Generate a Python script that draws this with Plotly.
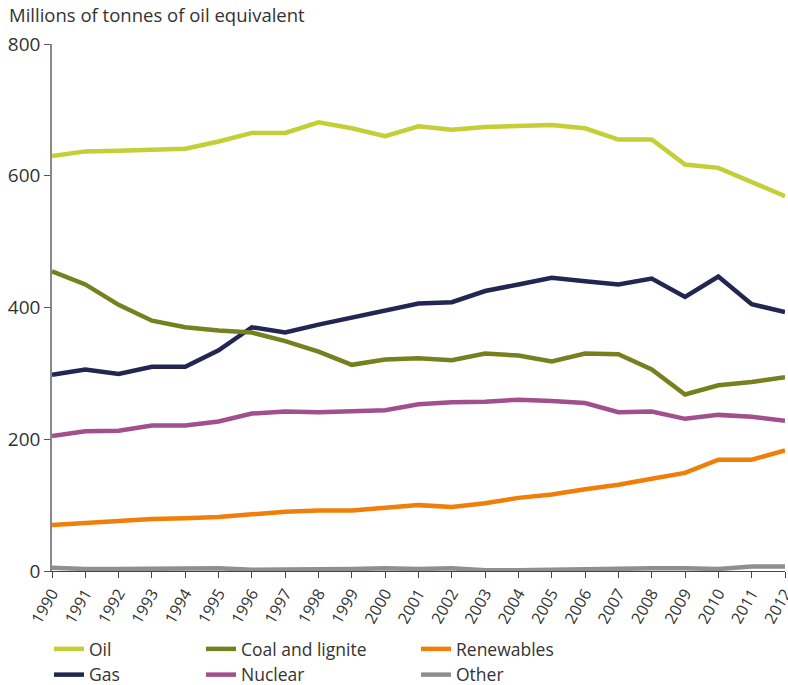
import plotly.graph_objects as go

years = list(range(1990, 2013))
oil = [630, 637, 638, 639, 641, 652, 665, 665, 681, 672, 660, 675, 670, 674, 676, 677, 672, 655, 655, 617, 612, 591, 569]
coal = [455, 435, 404, 380, 370, 365, 362, 349, 333, 313, 321, 323, 320, 330, 327, 318, 330, 329, 306, 268, 282, 287, 294]
renewables = [70, 73, 75, 79, 80, 82, 86, 90, 92, 92, 96, 100, 97, 103, 111, 116, 124, 131, 140, 149, 169, 169, 183]
gas = [298, 306, 299, 310, 310, 335, 370, 362, 374, 385, 396, 406, 408, 425, 435, 445, 440, 435, 444, 416, 447, 405, 393]
nuclear = [205, 212, 213, 221, 221, 227, 239, 242, 241, 243, 244, 253, 256, 257, 260, 258, 255, 241, 242, 231, 237, 234, 228]
other = [5, 3, 3, 3, 3, 4, 2, 2, 2, 3, 4, 3, 4, 1, 1, 2, 2, 3, 4, 4, 3, 7, 7]

# (name, values, colour, legend column)
series = [
    ("Oil", oil, "#c3cf34", "legend"),
    ("Gas", gas, "#232653", "legend"),
    ("Coal and lignite", coal, "#77801f", "legend2"),
    ("Nuclear", nuclear, "#a0508f", "legend2"),
    ("Renewables", renewables, "#f07f09", "legend3"),
    ("Other", other, "#8f8f8f", "legend3"),
]

W, H = 788, 685
ML, MR, MT, MB = 0, 3, 44, 0
PW, PH = W - ML - MR, H - MT - MB
plot_left, plot_bottom = 52, 571

fig = go.Figure()
for name, vals, col, lg in series:
    fig.add_trace(go.Scatter(x=years, y=vals, mode="lines", name=name, legend=lg,
                             line=dict(color=col, width=4.5)))

def leg(xpx):
    return dict(orientation="v", xref="paper", yref="paper",
                x=xpx / PW, y=(H - 631) / PH, xanchor="left", yanchor="top",
                font=dict(size=17.5, color="#333333"), itemwidth=30,
                bgcolor="rgba(0,0,0,0)", tracegroupgap=0)

fig.update_layout(
    width=W, height=H,
    margin=dict(l=ML, r=MR, t=MT, b=MB, pad=0, autoexpand=False),
    paper_bgcolor="white", plot_bgcolor="white",
    font=dict(family="Open Sans", size=16, color="#333333"),
    showlegend=True,
    legend=leg(49), legend2=leg(201), legend3=leg(416),
    xaxis=dict(domain=[plot_left / PW, 1], range=[1990, 2012], tickmode="array", tickvals=years,
               ticktext=[str(y) for y in years], tickangle=-60, automargin=False,
               ticklabeloverflow="allow",
               showgrid=False, zeroline=False, showline=True, linecolor="#444444",
               linewidth=1, ticks="outside", ticklen=6, tickcolor="#444444",
               tickfont=dict(size=16)),
    yaxis=dict(domain=[(H - plot_bottom) / PH, 1], range=[0, 800],
               tickvals=[0, 200, 400, 600, 800], showgrid=False, automargin=False,
               ticklabeloverflow="allow",
               zeroline=False, showline=True, linecolor="#888888", linewidth=1.5,
               ticks="outside", ticklen=6, tickcolor="#555555",
               tickfont=dict(size=19)),
    annotations=[dict(text="Millions of tonnes of oil equivalent", xref="paper", yref="paper",
                      x=7 / PW, y=1 + (MT - 15) / PH, xanchor="left", yanchor="middle",
                      showarrow=False, font=dict(size=18.5, color="#333333"))],
)

fig.write_html("out.html", config={"displayModeBar": False},
               post_script="document.body.style.margin='0';document.body.style.overflow='hidden';")
